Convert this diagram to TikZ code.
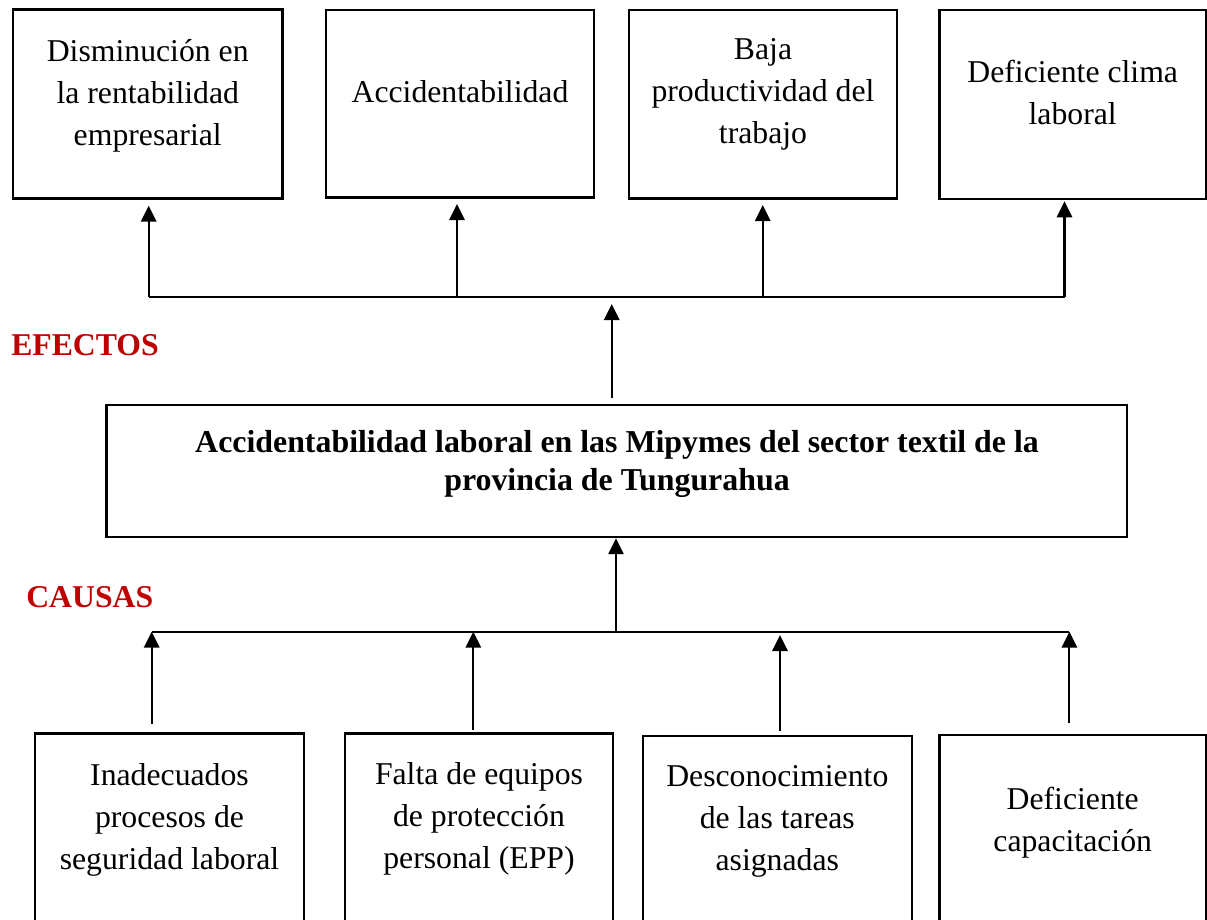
\documentclass[tikz,border=0pt]{standalone}
\usepackage{fontspec}
\setmainfont{Liberation Serif}
\usetikzlibrary{arrows.meta,fit,calc}
\definecolor{labred}{HTML}{C00000}
\tikzset{
  box/.style={draw, line width=1.8pt, inner sep=0pt, fill=none},
  txt/.style={align=center, inner sep=0pt, font=\fontsize{23.8pt}{31.5pt}\selectfont},
  maintxt/.style={align=center, inner sep=0pt, font=\fontsize{23.9pt}{28.5pt}\selectfont\bfseries},
  redlab/.style={anchor=base west, inner sep=0pt, text=labred, font=\fontsize{23.8pt}{27pt}\selectfont\bfseries},
  arr/.style={line width=1.6pt, -{Triangle[width=11.5pt,length=12pt]}},
  hline/.style={line width=1.2pt}
}
\begin{document}
\begin{tikzpicture}[x=0.75pt,y=-0.75pt]
\useasboundingbox (0,0) rectangle (1207,920);
\clip (0,0) rectangle (1207,920);
\fill[white] (0,0) rectangle (1207,920);
% effect boxes
\node[box, fit={(13,9.5) (282.5,198.5)}] (e1) {};
\node[box, fit={(326,10) (594,197.5)}] (e2) {};
\node[box, fit={(629,10) (897,198.5)}] (e3) {};
\node[box, fit={(939.5,10) (1206,199.3)}] (e4) {};
\node[txt] (e1t) at (147.75,95.7) {Disminución en\\la rentabilidad\\empresarial};
\node[txt] (e2t) at (460,91.5) {Accidentabilidad};
\node[txt] (e3t) at (763,94.5) {Baja\\productividad del\\trabajo};
\node[txt] (e4t) at (1072.7,92) {Deficiente clima\\laboral};
% main problem
\node[box, fit={(106.5,405) (1127,537)}] (main) {};
\node[maintxt] (maint) at (617,463.5) {Accidentabilidad laboral en las Mipymes del sector textil de la\\provincia de Tungurahua};
% cause boxes
\node[box, fit={(35,733.5) (304,940)}] (c1) {};
\node[box, fit={(345,733.5) (613,940)}] (c2) {};
\node[box, fit={(642.7,736) (912,940)}] (c3) {};
\node[box, fit={(939.5,735) (1206,940)}] (c4) {};
\node[txt] (c1t) at (169.5,820) {Inadecuados\\procesos de\\seguridad laboral};
\node[txt] (c2t) at (479,818.6) {Falta de equipos\\de protección\\personal (EPP)};
\node[txt] (c3t) at (777.3,821.8) {Desconocimiento\\de las tareas\\asignadas};
\node[txt] (c4t) at (1072.7,822.4) {Deficiente\\capacitación};
% labels
\node[redlab] (efectos) at (11,355.7) {EFECTOS};
\node[redlab] (causas) at (26,607.3) {CAUSAS};
% effect connectors
\coordinate (ta1) at (148.7,296.7);
\coordinate (ta2) at (457,296.7);
\coordinate (ta3) at (762.7,296.7);
\coordinate (ta4) at (1064.5,296.7);
\coordinate (tm) at (611.7,296.7);
\coordinate (mfoot) at (611.7,398.3);
\draw[hline] (ta1) -- (ta4);
\draw[arr, shorten >=4.5pt] (ta1) -- (ta1 |- e1.south);
\draw[arr, shorten >=4pt] (ta2) -- (ta2 |- e2.south);
\draw[arr, shorten >=4pt] (ta3) -- (ta3 |- e3.south);
\draw[arr, shorten >=0.6pt] (ta4) -- (ta4 |- e4.south);
\draw[arr, shorten >=5.5pt] (mfoot) -- (tm);
% cause connectors
\coordinate (cb1) at (151.7,631.7);
\coordinate (cb2) at (473.3,631.7);
\coordinate (cb3) at (780,631.7);
\coordinate (cb4) at (1069.4,631.7);
\coordinate (cm) at (616,631.7);
\coordinate (cs1) at (151.7,724);
\coordinate (cs2) at (473.3,730);
\coordinate (cs3) at (780,731);
\coordinate (cs4) at (1069.4,723.3);
\draw[hline] (cb1) -- (cb4);
\draw[arr] ([yshift=0.6pt]cm) -- (cm |- main.south);
\draw[arr] (cs1) -- (cb1);
\draw[arr] (cs2) -- (cb2);
\draw[arr, shorten >=2.5pt] (cs3) -- (cb3);
\draw[arr] (cs4) -- (cb4);
\end{tikzpicture}
\end{document}
